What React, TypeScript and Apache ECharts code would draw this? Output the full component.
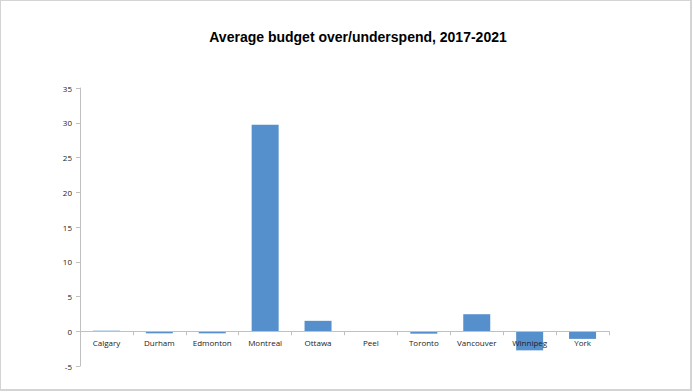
import React, { useEffect, useRef } from "react";
import * as echarts from "echarts";

const categories = ["Calgary", "Durham", "Edmonton", "Montreal", "Ottawa", "Peel", "Toronto", "Vancouver", "Winnipeg", "York"];
const values = [0.08, -0.3, -0.3, 29.7, 1.5, 0, -0.35, 2.45, -2.75, -1.1];
const titleText = "Average budget over/underspend, 2017-2021";

export default function App() {
  const ref = useRef<HTMLDivElement>(null);
  useEffect(() => {
    document.body.style.margin = "0";
    const chart = echarts.init(ref.current!, null, { renderer: "svg" });
    chart.setOption({
      animation: false,
      backgroundColor: "#ffffff",
      graphic: [
        {
          type: "text",
          x: 358,
          y: 37,
          style: {
            text: titleText,
            font: "bold 14px 'Liberation Sans', Arial, sans-serif",
            fill: "#000000",
            align: "center",
            verticalAlign: "middle",
          },
        },
      ],
      grid: { left: 80, right: 84, top: 88, bottom: 26, containLabel: false },
      xAxis: {
        type: "category",
        data: categories,
        z: 5,
        axisLine: { onZero: true, lineStyle: { color: "#c0c0c0", width: 1 } },
        axisTick: { show: true, alignWithLabel: false, length: 4, lineStyle: { color: "#c0c0c0" } },
        axisLabel: {
          color: "#222",
          fontSize: 8,
          fontFamily: "'Open Sans', 'Liberation Sans', sans-serif",
          margin: -28,
          interval: 0,
        },
        splitLine: { show: false },
      },
      yAxis: {
        type: "value",
        min: -5,
        max: 35,
        interval: 5,
        axisLine: { show: true, lineStyle: { color: "#c0c0c0", width: 1 } },
        axisTick: { show: true, length: 4, lineStyle: { color: "#c0c0c0" } },
        axisLabel: {
          color: "#222",
          fontSize: 8,
          fontFamily: "'Open Sans', 'Liberation Sans', sans-serif",
          margin: 8,
        },
        splitLine: { show: false },
      },
      series: [
        {
          type: "bar",
          data: values,
          barWidth: 27,
          itemStyle: { color: "#5590cc" },
          z: 2,
        },
      ],
    });
    return () => chart.dispose();
  }, []);
  return (
    <div style={{ position: "relative", width: 693, height: 392 }}>
      <div ref={ref} style={{ position: "absolute", left: 0, top: 0, width: 693, height: 392 }} />
      <div
        style={{
          position: "absolute",
          left: 0,
          top: 0,
          width: 689,
          height: 388,
          borderTop: "1px solid #d4d4d4",
          borderLeft: "1px solid #d4d4d4",
          borderRight: "2px solid #d4d4d4",
          borderBottom: "2px solid #d4d4d4",
          pointerEvents: "none",
        }}
      />
    </div>
  );
}
